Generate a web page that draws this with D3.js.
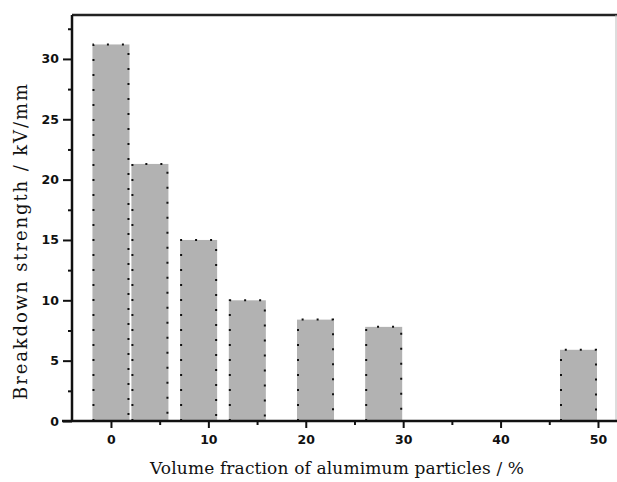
<html>
<head>
	<meta charset="utf-8">
	<script src="https://d3js.org/d3.v7.min.js"></script>
	<style>
		body { margin: 0; background: white; }
	</style>
</head>
<body>
	<div id="output"></div>
	<script>
		// data
		var fractions = [0, 4, 9, 14, 21, 28, 48];
		var strengths = [31.2, 21.3, 15.0, 10.0, 8.4, 7.8, 5.9];
		var xTicks = [0, 10, 20, 30, 40, 50];
		var yTicks = [0, 5, 10, 15, 20, 25, 30];
		var barWidth = 3.8; // in % units

		var W = 617, H = 482;
		var plotL = 72, plotR = 616, plotT = 15, plotB = 421;

		var svg = d3.select("#output")
			.append("svg")
			.attr("width", W)
			.attr("height", H);

		var x = d3.scaleLinear().domain([-4, 51.85]).range([plotL, plotR]);
		var y = d3.scaleLinear().domain([0, 33.64]).range([plotB, plotT]);

		// bars
		var bars = svg.append("g");
		fractions.forEach(function(f, i){
			var x0 = x(f - barWidth/2), x1 = x(f + barWidth/2);
			var yt = y(strengths[i]);
			bars.append("rect")
				.attr("x", x0)
				.attr("y", yt)
				.attr("width", x1 - x0)
				.attr("height", plotB - yt)
				.attr("fill", "#b2b2b2");
			// dotted outline: left, top, right
			var p = d3.path();
			p.moveTo(x0 + 1, plotB);
			p.lineTo(x0 + 1, yt);
			p.lineTo(x1 - 1, yt);
			p.lineTo(x1 - 1, plotB);
			bars.append("path")
				.attr("d", p.toString())
				.attr("fill", "none")
				.attr("stroke", "#111")
				.attr("stroke-width", 2)
				.attr("stroke-dasharray", "2,13");
		});

		// frame top and right
		svg.append("line")
			.attr("x1", plotL).attr("x2", plotR + 1)
			.attr("y1", plotT).attr("y2", plotT)
			.attr("stroke", "#222").attr("stroke-width", 2.5);
		svg.append("line")
			.attr("x1", plotR).attr("x2", plotR)
			.attr("y1", plotT).attr("y2", plotB)
			.attr("stroke", "#bbb").attr("stroke-width", 1);

		// y axis
		svg.append("g")
			.attr("transform", "translate(" + plotL + ",0)")
			.call(d3.axisLeft(y).tickValues(yTicks).tickSize(9).tickPadding(4).tickFormat(d3.format("d")));
		svg.append("g")
			.attr("transform", "translate(" + plotL + ",0)")
			.call(d3.axisLeft(y).tickValues([2.5, 7.5, 12.5, 17.5, 22.5, 27.5, 32.5]).tickSize(4).tickFormat(""));

		// x axis
		svg.append("g")
			.attr("transform", "translate(0," + plotB + ")")
			.call(d3.axisBottom(x).tickValues(xTicks).tickSize(7).tickPadding(7).tickFormat(d3.format("d")));
		svg.append("g")
			.attr("transform", "translate(0," + plotB + ")")
			.call(d3.axisBottom(x).tickValues([5, 15, 25, 35, 45]).tickSize(4).tickFormat(""));

		svg.selectAll(".domain").remove();
		svg.selectAll(".tick line").attr("stroke", "#111").attr("stroke-width", 2);
		svg.selectAll(".tick text")
			.style("font-family", "'DejaVu Sans', sans-serif")
			.style("font-weight", "bold")
			.style("font-size", "12.5px")
			.attr("fill", "#111");

		// axis lines
		svg.append("line")
			.attr("x1", plotL).attr("x2", plotL)
			.attr("y1", plotT).attr("y2", plotB)
			.attr("stroke", "#111").attr("stroke-width", 2.5);
		svg.append("line")
			.attr("x1", 62).attr("x2", plotR + 1)
			.attr("y1", plotB).attr("y2", plotB)
			.attr("stroke", "#111").attr("stroke-width", 2.5);

		// axis titles
		svg.append("text")
			.attr("x", 337)
			.attr("y", 474)
			.attr("text-anchor", "middle")
			.attr("textLength", 374)
			.style("font-family", "'DejaVu Serif', serif")
			.style("font-size", "17px")
			.attr("fill", "#111")
			.text("Volume fraction of alumimum particles / %");
		svg.append("text")
			.attr("transform", "translate(27,242) rotate(-90)")
			.attr("text-anchor", "middle")
			.attr("textLength", 316)
			.style("font-family", "'DejaVu Serif', serif")
			.style("font-size", "18px")
			.attr("fill", "#111")
			.text("Breakdown strength / kV/mm");
	</script>
</body>
</html>
